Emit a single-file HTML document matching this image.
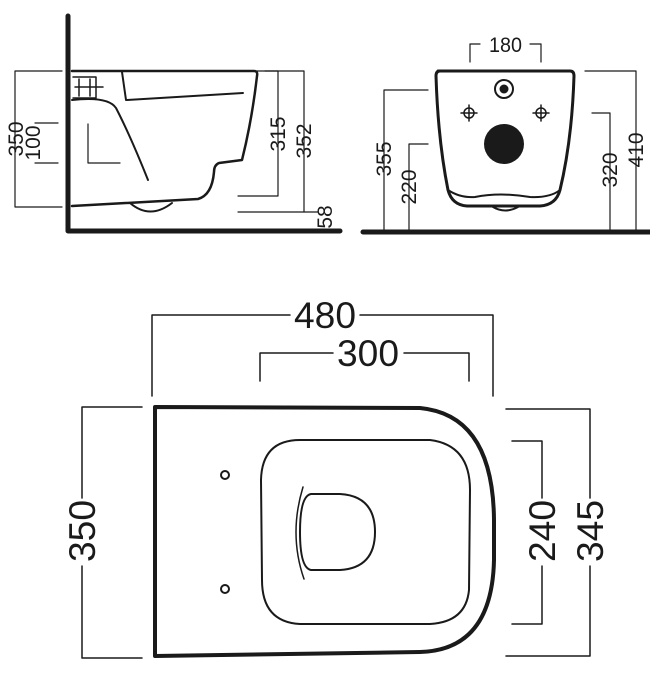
<!DOCTYPE html>
<html><head><style>
html,body{margin:0;padding:0;background:#fff;}
svg{display:block;}
text{font-family:"Liberation Sans",Arial,sans-serif;fill:#1a1a1a;}
</style></head><body>
<svg width="650" height="700" viewBox="0 0 650 700" xmlns="http://www.w3.org/2000/svg">
<g fill="none" stroke="#1a1a1a" stroke-linecap="round" stroke-linejoin="round">
<!-- side view -->
<path d="M68 16 V231 H340" stroke-width="5"/>
<path d="M72 71 H254 Q258 71 257 76 Q252 120 242 160 L219 163 Q214 165 214 172 Q212 195 198 199 L72 206" stroke-width="2.5"/>
<path d="M122 72 L126 100 L243 93" stroke-width="2"/>
<path d="M72 100 Q108 96 116 108 Q130 135 148 180" stroke-width="2"/>
<path d="M73 77 H96 V98 H73 M79 79 V96 M90 79 V96 M75 87 H103" stroke-width="1.5"/>
<path d="M130 203 Q150 220 172 203" stroke-width="2"/>
<path d="M88 124 V163 H120" stroke-width="1.2"/>
<g stroke-width="1.2">
<path d="M62 71 H15 V207 H62"/>
<path d="M35 123 H58 M35 163 H58"/>
<path d="M238 71 H278 V196 H238"/>
<path d="M265 71 H304 V212 H238"/>
<path d="M304 212 H318"/>
<path d="M470 62 V44 H480 M530 44 H541 V62"/>
<path d="M428 90 H384 V231"/>
<path d="M428 144 H409 V231"/>
<path d="M592 113 H610 V231"/>
<path d="M585 71 H636 V231"/>
</g>
<!-- front view -->
<path d="M363 232 H650" stroke-width="5"/>
<path d="M438 71 H570 Q574 71 574 76 Q572 140 560 190 Q556 205 540 206 H467 Q452 205 448 190 Q438 140 436 76 Q436 71 440 71 Z" stroke-width="3"/>
<path d="M448 190 Q460 198 475 197 Q500 192 530 197 Q550 198 560 190" stroke-width="2"/>
<path d="M493 207 Q505 214 518 207" stroke-width="2"/>
<circle cx="504" cy="89" r="9" stroke-width="2"/>
<circle cx="504" cy="89" r="4.5" fill="#1a1a1a" stroke="none"/>
<g stroke-width="1.5">
<circle cx="469" cy="113" r="5"/><path d="M461 113 H477 M469 105 V121"/>
<circle cx="541" cy="113" r="5"/><path d="M533 113 H549 M541 105 V121"/>
</g>
<circle cx="504" cy="144" r="20" fill="#1a1a1a" stroke="none"/>
<!-- plan view -->
<path d="M155 407 L420 408 Q493 415 494 520 L494 560 Q492 650 420 652 L155 656 Z" stroke-width="4"/>
<path d="M300 440 H430 Q470 445 470 490 L469 590 Q466 622 430 624 H300 Q262 622 262 580 L261 480 Q262 440 300 440 Z" stroke-width="2"/>
<path d="M311 494 H340 Q375 496 375 532 Q375 568 340 570 H311 Q300 568 300 532 Q300 496 311 494 Z" stroke-width="2"/>
<path d="M303 487 Q296 510 296 532 Q296 556 304 579" stroke-width="1.5"/>
<circle cx="225" cy="475" r="4" stroke-width="2"/>
<circle cx="225" cy="589" r="4" stroke-width="2"/>
<g stroke-width="1.5">
<path d="M152 396 V315 H290 M360 315 H493 V396"/>
<path d="M260 381 V353 H333 M404 353 H469 V381"/>
<path d="M142 407 H82 V498 M82 566 V658 H142"/>
<path d="M506 409 H590 V498 M590 566 V656 H506"/>
<path d="M512 441 H542 V498 M542 566 V624 H512"/>
</g>
</g>
<g font-size="21">
<text x="489" y="52" textLength="33" lengthAdjust="spacingAndGlyphs">180</text>
<text transform="translate(23,139) rotate(-90)" text-anchor="middle">350</text>
<text transform="translate(40,143) rotate(-90)" text-anchor="middle">100</text>
<text transform="translate(285,134) rotate(-90)" text-anchor="middle">315</text>
<text transform="translate(311,141) rotate(-90)" text-anchor="middle">352</text>
<text transform="translate(332,217) rotate(-90)" text-anchor="middle">58</text>
<text transform="translate(391,159) rotate(-90)" text-anchor="middle">355</text>
<text transform="translate(416,187) rotate(-90)" text-anchor="middle">220</text>
<text transform="translate(617,170) rotate(-90)" text-anchor="middle">320</text>
<text transform="translate(643,150) rotate(-90)" text-anchor="middle">410</text>
</g>
<g font-size="37">
<text x="294" y="328" textLength="62" lengthAdjust="spacingAndGlyphs">480</text>
<text x="337" y="366" textLength="62" lengthAdjust="spacingAndGlyphs">300</text>
<text transform="translate(95,562) rotate(-90)" textLength="62" lengthAdjust="spacingAndGlyphs">350</text>
<text transform="translate(555,562) rotate(-90)" textLength="62" lengthAdjust="spacingAndGlyphs">240</text>
<text transform="translate(603,562) rotate(-90)" textLength="62" lengthAdjust="spacingAndGlyphs">345</text>
</g>
</svg>
</body></html>
